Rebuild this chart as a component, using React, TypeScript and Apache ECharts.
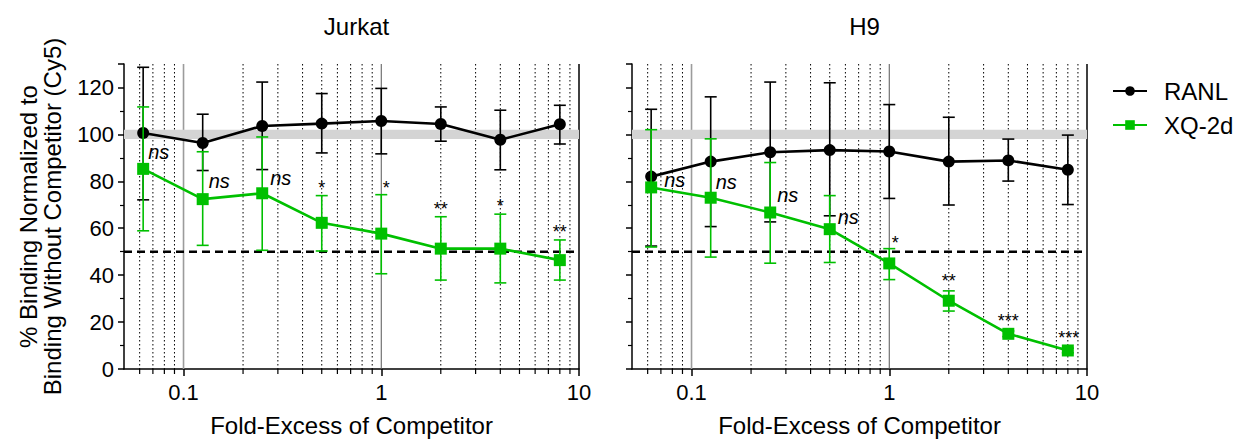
import React, { useEffect, useRef } from 'react';
import * as echarts from 'echarts';

// ---------- data ----------
const X_VALUES = [0.0625, 0.125, 0.25, 0.5, 1, 2, 4, 8];

const JURKAT_RANL = [100.6, 96.3, 103.6, 104.6, 105.7, 104.4, 97.7, 104.3];
const JURKAT_RANL_LOW = [72.1, 84.6, 85.0, 92.1, 91.7, 97.1, 84.9, 95.9];
const JURKAT_RANL_HIGH = [128.6, 108.6, 122.3, 117.4, 119.6, 111.7, 110.3, 112.4];
const JURKAT_XQ = [85.3, 72.4, 74.9, 62.3, 57.7, 51.3, 51.3, 46.4];
const JURKAT_XQ_LOW = [58.9, 52.7, 50.6, 50.3, 40.6, 37.9, 36.7, 37.9];
const JURKAT_XQ_HIGH = [111.7, 92.6, 98.9, 73.9, 74.3, 64.9, 66.0, 55.0];

const H9_RANL = [82.0, 88.4, 92.4, 93.3, 92.7, 88.4, 88.9, 84.9];
const H9_RANL_LOW = [52.4, 60.7, 62.7, 65.3, 72.7, 69.9, 80.1, 70.1];
const H9_RANL_HIGH = [110.7, 116.0, 122.3, 122.0, 112.7, 107.3, 98.0, 99.7];
const H9_XQ = [77.4, 73.0, 66.7, 59.6, 45.0, 29.1, 15.0, 7.9];
const H9_XQ_LOW = [52.0, 47.7, 45.1, 45.4, 38.1, 24.7, 13.8, 6.9];
const H9_XQ_HIGH = [102.0, 98.1, 88.0, 73.9, 51.3, 33.3, 16.2, 8.9];

const JURKAT_ANN_TEXT = ['ns', 'ns', 'ns', '*', '*', '**', '*', '**'];
const JURKAT_ANN_Y = [92.3, 80.3, 81.2, 77.1, 77.1, 68.1, 69.4, 58.3];
const JURKAT_ANN_DX = [5, 6, 8, 0, 5, 0, 0, 0];

const H9_ANN_TEXT = ['ns', 'ns', 'ns', 'ns', '*', '**', '***', '***'];
const H9_ANN_Y = [80.7, 79.9, 74.3, 64.9, 53.6, 37.7, 20.6, 13.3];
const H9_ANN_DX = [13, 5, 7, 8, 6, 0, 0, 1];

const MINOR_GRID_X = [0.06, 0.07, 0.08, 0.09, 0.2, 0.3, 0.4, 0.5, 0.6, 0.7, 0.8, 0.9, 2, 3, 4, 5, 6, 7, 8, 9];
const MAJOR_GRID_X = [0.1, 1, 10];
const MAJOR_GRID_COLORS = ['#9c9c9c', '#555555', '#000000'];

const REF_BAND = [98, 102];
const REF_LINE = 50;

const X_MIN = 0.05;
const X_MAX = 10;
const Y_MIN = 0;
const Y_MAX = 130;

const TITLES = ['Jurkat', 'H9'];
const SERIES_NAMES = ['RANL', 'XQ-2d'];

// ---------- style ----------
const FONT = '"Liberation Sans", Arial, sans-serif';
const GREEN = '#00C000';
const BLACK = '#000000';
const GRID_LEFTS = [124, 632];
const GRID_W = 455;
const GRID_TOP = 64;
const GRID_H = 305;

function panelSeries(gi: number, ranl: number[], ranlLo: number[], ranlHi: number[], xq: number[], xqLo: number[], xqHi: number[], annText: string[], annY: number[], annDx: number[]) {
  const base = { xAxisIndex: gi, yAxisIndex: gi };
  const errSeries = (name: string, lo: number[], hi: number[], color: string, z: number) => ({
    ...base,
    type: 'custom',
    name,
    z,
    silent: true,
    encode: { x: 0, y: [1, 2] },
    data: X_VALUES.map((x, i) => [x, lo[i], hi[i]]),
    renderItem: (params: any, api: any) => {
      const x = api.value(0);
      const pLo = api.coord([x, api.value(1)]);
      const pHi = api.coord([x, api.value(2)]);
      const w = 6;
      const style = { stroke: color, lineWidth: 1.6 };
      return {
        type: 'group',
        children: [
          { type: 'line', shape: { x1: pLo[0], y1: pLo[1], x2: pHi[0], y2: pHi[1] }, style },
          { type: 'line', shape: { x1: pLo[0] - w, y1: pLo[1], x2: pLo[0] + w, y2: pLo[1] }, style },
          { type: 'line', shape: { x1: pHi[0] - w, y1: pHi[1], x2: pHi[0] + w, y2: pHi[1] }, style },
        ],
      };
    },
  });

  return [
    {
      ...base,
      type: 'custom',
      name: 'minorGrid' + gi,
      z: 1,
      silent: true,
      encode: { x: 0, y: 1 },
      data: MINOR_GRID_X.map((x) => [x, Y_MIN]),
      renderItem: (params: any, api: any) => {
        const x = api.value(0);
        const pTop = api.coord([x, Y_MAX]);
        const pBot = api.coord([x, Y_MIN]);
        return {
          type: 'group',
          children: [
            { type: 'line', shape: { x1: pTop[0], y1: pTop[1], x2: pBot[0], y2: pBot[1] }, style: { stroke: '#000', lineWidth: 1, lineDash: [1.5, 2.5] } },
            { type: 'line', shape: { x1: pBot[0], y1: pBot[1], x2: pBot[0], y2: pBot[1] + 5 }, style: { stroke: '#000', lineWidth: 1.2 } },
          ],
        };
      },
    },
    {
      ...base,
      type: 'custom',
      name: 'majorGrid' + gi,
      z: 1,
      silent: true,
      encode: { x: 0, y: 1 },
      data: MAJOR_GRID_X.map((x) => [x, Y_MIN]),
      renderItem: (params: any, api: any) => {
        const x = api.value(0);
        const pTop = api.coord([x, Y_MAX]);
        const pBot = api.coord([x, Y_MIN]);
        const idx = params.dataIndex;
        return {
          type: 'line',
          shape: { x1: pTop[0], y1: pTop[1], x2: pBot[0], y2: pBot[1] },
          style: { stroke: MAJOR_GRID_COLORS[idx], lineWidth: idx === 2 ? 1.5 : idx === 0 ? 1.6 : 1 },
        };
      },
    },
    {
      ...base,
      type: 'custom',
      name: 'band' + gi,
      z: 1,
      silent: true,
      encode: { x: [0, 1], y: [2, 3] },
      data: [[X_MIN, X_MAX, REF_BAND[0], REF_BAND[1]]],
      renderItem: (params: any, api: any) => {
        const p1 = api.coord([api.value(0), api.value(3)]);
        const p2 = api.coord([api.value(1), api.value(2)]);
        return {
          type: 'rect',
          shape: { x: p1[0], y: p1[1], width: p2[0] - p1[0], height: p2[1] - p1[1] },
          style: { fill: '#d4d4d4' },
        };
      },
    },
    {
      ...base,
      type: 'custom',
      name: 'ref' + gi,
      z: 2,
      silent: true,
      encode: { x: [0, 1], y: 2 },
      data: [[X_MIN, X_MAX, REF_LINE]],
      renderItem: (params: any, api: any) => {
        const p1 = api.coord([api.value(0), api.value(2)]);
        const p2 = api.coord([api.value(1), api.value(2)]);
        return {
          type: 'line',
          shape: { x1: p1[0], y1: p1[1], x2: p2[0], y2: p2[1] },
          style: { stroke: '#000', lineWidth: 2.6, lineDash: [8, 5] },
        };
      },
    },
    errSeries('ranlErr' + gi, ranlLo, ranlHi, BLACK, 3),
    {
      ...base,
      type: 'line',
      name: SERIES_NAMES[0],
      z: 4,
      symbol: 'circle',
      symbolSize: 12,
      lineStyle: { color: BLACK, width: 2.6 },
      itemStyle: { color: BLACK },
      data: X_VALUES.map((x, i) => [x, ranl[i]]),
    },
    errSeries('xqErr' + gi, xqLo, xqHi, GREEN, 5),
    {
      ...base,
      type: 'line',
      name: SERIES_NAMES[1],
      z: 6,
      symbol: 'rect',
      symbolSize: 12,
      lineStyle: { color: GREEN, width: 2.6 },
      itemStyle: { color: GREEN },
      data: X_VALUES.map((x, i) => [x, xq[i]]),
    },
    {
      ...base,
      type: 'custom',
      name: 'ann' + gi,
      z: 7,
      silent: true,
      encode: { x: 0, y: 1 },
      data: X_VALUES.map((x, i) => [x, annY[i]]),
      renderItem: (params: any, api: any) => {
        const idx = params.dataIndex;
        const p = api.coord([api.value(0), api.value(1)]);
        const t = annText[idx];
        const isNs = t === 'ns';
        return {
          type: 'text',
          x: p[0] + annDx[idx],
          y: p[1],
          style: {
            text: t,
            fill: '#000',
            fontSize: isNs ? 20 : 18,
            fontFamily: FONT,
            fontStyle: isNs ? 'italic' : 'normal',
            align: isNs ? 'left' : 'center',
            verticalAlign: 'middle',
          },
        };
      },
    },
  ];
}

export default function App() {
  const ref = useRef<HTMLDivElement>(null);
  useEffect(() => {
    if (!ref.current) return;
    const chart = echarts.init(ref.current, undefined, { renderer: 'svg' });

    const grids = GRID_LEFTS.map((left) => ({ left, top: GRID_TOP, width: GRID_W, height: GRID_H }));

    const xAxes = [0, 1].map((gi) => ({
      type: 'log',
      logBase: 10,
      gridIndex: gi,
      min: X_MIN,
      max: X_MAX,
      name: 'Fold-Excess of Competitor',
      nameLocation: 'middle',
      nameGap: 44,
      nameTextStyle: { fontSize: 24, color: '#000', fontFamily: FONT },
      axisLine: { lineStyle: { color: '#000', width: 1.5 } },
      axisTick: { show: true, length: 7, lineStyle: { color: '#000', width: 1.5 } },
      axisLabel: {
        fontSize: 22,
        color: '#000',
        fontFamily: FONT,
        margin: 12,
        showMinLabel: false,
        formatter: (v: number) => String(+Number(v).toPrecision(3)),
      },
      splitLine: { show: false },
      minorTick: { show: false },
      minorSplitLine: { show: false },
    }));

    const yAxes = [0, 1].map((gi) => ({
      type: 'value',
      gridIndex: gi,
      min: Y_MIN,
      max: Y_MAX,
      interval: 20,
      name: gi === 0 ? '% Binding Normalized to\nBinding Without Competitor (Cy5)' : '',
      nameLocation: 'middle',
      nameRotate: 90,
      nameGap: 60,
      nameTextStyle: { fontSize: 24, color: '#000', fontFamily: FONT, lineHeight: 24 },
      axisLine: { show: true, lineStyle: { color: '#000', width: 1.5 } },
      axisTick: { show: true, length: 6, lineStyle: { color: '#000', width: 1.5 } },
      minorTick: { show: true, splitNumber: 2, length: 4, lineStyle: { color: '#000', width: 1.2 } },
      axisLabel: {
        show: gi === 0,
        fontSize: 22,
        color: '#000',
        fontFamily: FONT,
        margin: 10,
        showMaxLabel: false,
      },
      splitLine: { show: false },
    }));

    const series = [
      ...panelSeries(0, JURKAT_RANL, JURKAT_RANL_LOW, JURKAT_RANL_HIGH, JURKAT_XQ, JURKAT_XQ_LOW, JURKAT_XQ_HIGH, JURKAT_ANN_TEXT, JURKAT_ANN_Y, JURKAT_ANN_DX),
      ...panelSeries(1, H9_RANL, H9_RANL_LOW, H9_RANL_HIGH, H9_XQ, H9_XQ_LOW, H9_XQ_HIGH, H9_ANN_TEXT, H9_ANN_Y, H9_ANN_DX),
    ];

    chart.setOption({
      animation: false,
      backgroundColor: '#ffffff',
      textStyle: { fontFamily: FONT },
      title: TITLES.map((t, i) => ({
        text: t,
        left: GRID_LEFTS[i] + GRID_W / 2,
        textAlign: 'center',
        top: 9,
        textStyle: { fontSize: 24, fontWeight: 'normal', color: '#000', fontFamily: FONT },
      })),
      legend: {
        data: SERIES_NAMES,
        orient: 'vertical',
        left: 1107,
        top: 74,
        itemWidth: 34,
        itemHeight: 12,
        itemGap: 10,
        textStyle: { fontSize: 24, color: '#000', fontFamily: FONT, padding: [0, 0, 0, 12] },
      },
      grid: grids,
      xAxis: xAxes,
      yAxis: yAxes,
      series,
    } as any);

    return () => chart.dispose();
  }, []);

  return <div ref={ref} style={{ position: 'fixed', left: 0, top: 0, width: 1239, height: 444 }} />;
}
